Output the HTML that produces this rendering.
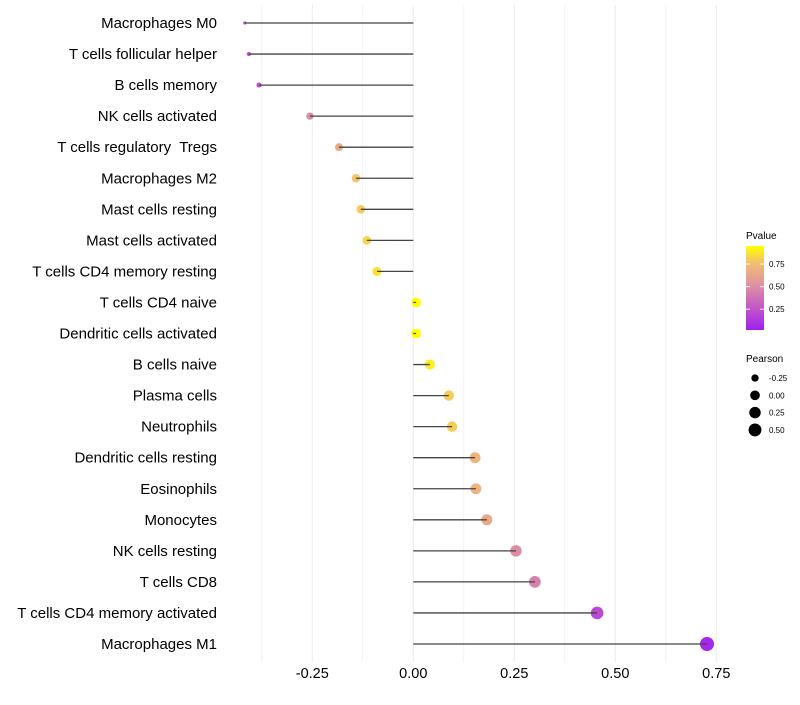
<!DOCTYPE html>
<html><head><meta charset="utf-8"><style>
body{margin:0;background:#fff;font-family:"Liberation Sans",sans-serif}
svg text{font-family:"Liberation Sans",sans-serif;white-space:pre}
</style></head><body>
<svg id="chart" width="800" height="700" xmlns="http://www.w3.org/2000/svg">
<g id="grid"></g>
<g id="marks"></g>
<g id="ylabels"></g>
<g id="xlabels"></g>
<g id="legend">
<defs><linearGradient id="pg" x1="0" y1="1" x2="0" y2="0">
<stop offset="0" stop-color="#a020f0"/><stop offset="0.3" stop-color="#c65fc0"/><stop offset="0.55" stop-color="#df94a0"/><stop offset="0.8" stop-color="#f3c070"/><stop offset="1" stop-color="#ffff00"/></linearGradient></defs>
<text x="746" y="239" font-size="10" fill="#000">Pvalue</text>
<rect x="746" y="246" width="18" height="84" fill="url(#pg)"/>
<g id="cbticks"></g>
<text x="746" y="362" font-size="10" fill="#000">Pearson</text>
<g id="sizeleg"></g>
</g>
</svg>
<script>
const categories=["Macrophages M0","T cells follicular helper","B cells memory","NK cells activated","T cells regulatory  Tregs","Macrophages M2","Mast cells resting","Mast cells activated","T cells CD4 memory resting","T cells CD4 naive","Dendritic cells activated","B cells naive","Plasma cells","Neutrophils","Dendritic cells resting","Eosinophils","Monocytes","NK cells resting","T cells CD8","T cells CD4 memory activated","Macrophages M1"];
const pearson=[-0.417,-0.407,-0.382,-0.256,-0.184,-0.142,-0.13,-0.115,-0.09,0.007,0.007,0.041,0.088,0.096,0.153,0.155,0.182,0.254,0.301,0.455,0.727];
const pvalues=[0.2,0.22,0.25,0.5,0.65,0.78,0.8,0.82,0.87,0.98,0.97,0.9,0.8,0.8,0.7,0.7,0.65,0.5,0.45,0.2,0.05];
const xTicks=[-0.25,0,0.25,0.5,0.75];
const xTickLabels=["-0.25","0.00","0.25","0.50","0.75"];
const cbTicks=[0.25,0.5,0.75];
const sizeLegend=[-0.25,0,0.25,0.5];
const NS="http://www.w3.org/2000/svg";
const x=v=>413.3+v*404;
const y=i=>23+i*31.05;
const vmin=Math.min(...pearson),vmax=Math.max(...pearson);
const r=v=>1.6+5.4*Math.sqrt(Math.max(0,(v-vmin)/(vmax-vmin)));
const cy=p=>330-(p-0.02)/(0.95-0.02)*84;
function col(p){const s=[[0,[160,32,240]],[0.3,[198,95,192]],[0.55,[223,148,160]],[0.8,[243,192,112]],[1,[255,255,0]]];
 let t=Math.max(0,Math.min(1,(p-0.02)/0.93));
 for(let k=1;k<s.length;k++){if(t<=s[k][0]){const a=s[k-1],b=s[k],f=(t-a[0])/(b[0]-a[0]);return `rgb(${a[1].map((c,j)=>Math.round(c+(b[1][j]-c)*f)).join(',')})`;}}return 'rgb(255,255,0)';}
function mk(tag,attrs,parent){const e=document.createElementNS(NS,tag);for(const k in attrs)e.setAttribute(k,attrs[k]);parent.appendChild(e);return e;}
const grid=document.getElementById('grid'),marks=document.getElementById('marks'),yl=document.getElementById('ylabels'),xl=document.getElementById('xlabels');
for(let v=-0.375;v<=0.76;v+=0.125){const l=mk('line',{x1:x(v),x2:x(v),y1:5,y2:662,stroke:'#ebebeb','stroke-width':Math.abs(v/0.25-Math.round(v/0.25))<1e-6?1:0.6},grid);
}
categories.forEach((c,i)=>{
 const t=mk('text',{x:217,y:y(i)+5,'text-anchor':'end','font-size':15,fill:'#000'},yl);t.textContent=c;
 
 const pt=mk('circle',{cx:x(pearson[i]),cy:y(i),r:r(pearson[i]),fill:col(pvalues[i])},marks);
 
 const ln=mk('line',{x1:x(0),x2:x(pearson[i]),y1:y(i),y2:y(i),stroke:'#444','stroke-width':1.3},marks);
 
});
xTicks.forEach((v,i)=>{const t=mk('text',{x:x(v),y:678,'text-anchor':'middle','font-size':14.5,fill:'#000'},xl);t.textContent=xTickLabels[i];
 });
const cb=document.getElementById('cbticks');
cbTicks.forEach(p=>{const l=mk('line',{x1:746,x2:750,y1:cy(p),y2:cy(p),stroke:'#fff'},cb);
 const l2=mk('line',{x1:760,x2:764,y1:cy(p),y2:cy(p),stroke:'#fff'},cb);
 const t=mk('text',{x:769,y:cy(p)+3,'font-size':8,fill:'#000'},cb);t.textContent=p.toFixed(2);});
const sl=document.getElementById('sizeleg');
sizeLegend.forEach((v,i)=>{const yy=378+i*17.3;const c=mk('circle',{cx:755,cy:yy,r:r(v),fill:'#000'},sl);
 const t=mk('text',{x:769,y:yy+3,'font-size':8,fill:'#000'},sl);t.textContent=v.toFixed(2);});
</script>
</body></html>
